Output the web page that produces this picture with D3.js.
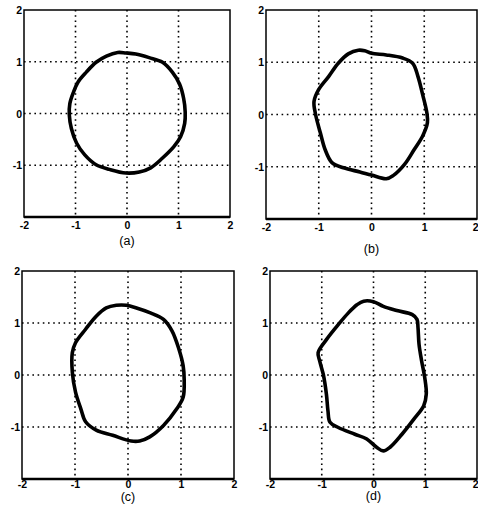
<!DOCTYPE html>
<html>
<head>
<meta charset="utf-8">
<script src="https://cdn.jsdelivr.net/npm/d3@7"></script>
<style>
  html, body { margin: 0; padding: 0; background: #fff; }
  svg { display: block; }
  .tick text { font-family: "Liberation Sans", Arial, sans-serif; font-weight: bold; font-size: 10.5px; fill: #000; }
  .caption { font-family: "Liberation Sans", Arial, sans-serif; font-size: 12.5px; fill: #000; }
</style>
</head>
<body>
<svg id="chart" width="478" height="510"></svg>
<script>
// Tick values: the x axis carries -2..2, the y axis -1..2 (its -2 is left to the x axis)
const xTickValues = [-2, -1, 0, 1, 2];
const yTickValues = [-1, 0, 1, 2];
const gridValues = [-1, 0, 1];

// Panel captions
const captions = ["(a)", "(b)", "(c)", "(d)"];

// Closed trajectory of each panel, as [x, y] points
const curveA = [
  [-0.18, 1.18], [-0.40, 1.11], [-0.60, 0.99], [-0.79, 0.80], [-0.95, 0.61],
  [-1.04, 0.41], [-1.11, 0.19], [-1.12, -0.03], [-1.08, -0.29], [-0.98, -0.57],
  [-0.82, -0.80], [-0.60, -0.99], [-0.34, -1.08], [-0.02, -1.15], [0.24, -1.13],
  [0.46, -1.05], [0.69, -0.86], [0.91, -0.64], [1.04, -0.45], [1.12, -0.19],
  [1.13, 0.03], [1.10, 0.29], [1.02, 0.57], [0.88, 0.80], [0.69, 0.99],
  [0.43, 1.08], [0.17, 1.15], [-0.02, 1.17]
];
const curveB = [
  [-0.25, 1.23], [-0.44, 1.16], [-0.63, 0.98], [-0.81, 0.73], [-1.00, 0.48],
  [-1.09, 0.25], [-1.06, 0.00], [-0.97, -0.35], [-0.88, -0.67], [-0.75, -0.92],
  [-0.53, -1.02], [-0.22, -1.10], [0.00, -1.16], [0.28, -1.23], [0.41, -1.17],
  [0.63, -0.95], [0.81, -0.67], [0.97, -0.41], [1.06, -0.16], [1.05, 0.03],
  [0.97, 0.38], [0.88, 0.73], [0.78, 0.98], [0.59, 1.08], [0.28, 1.14],
  [0.00, 1.17], [-0.13, 1.22]
];
const curveC = [
  [-0.22, 1.34], [-0.41, 1.29], [-0.60, 1.13], [-0.80, 0.88], [-0.99, 0.62],
  [-1.05, 0.43], [-1.05, 0.05], [-0.99, -0.33], [-0.89, -0.65], [-0.80, -0.90],
  [-0.60, -1.06], [-0.29, -1.16], [0.06, -1.27], [0.22, -1.27], [0.41, -1.19],
  [0.67, -0.97], [0.92, -0.65], [1.04, -0.43], [1.06, -0.08], [1.04, 0.18],
  [0.96, 0.50], [0.83, 0.85], [0.67, 1.07], [0.41, 1.20], [0.16, 1.29],
  [-0.03, 1.34]
];
const curveD = [
  [-0.19, 1.42], [-0.32, 1.35], [-0.49, 1.19], [-0.68, 0.97], [-0.91, 0.68],
  [-1.07, 0.43], [-1.04, 0.27], [-0.97, 0.01], [-0.91, -0.37], [-0.88, -0.69],
  [-0.84, -0.91], [-0.68, -1.01], [-0.36, -1.14], [-0.13, -1.23], [0.06, -1.39],
  [0.19, -1.46], [0.32, -1.39], [0.55, -1.14], [0.78, -0.85], [0.97, -0.59],
  [1.02, -0.37], [0.99, -0.05], [0.93, 0.27], [0.88, 0.59], [0.86, 0.91],
  [0.84, 1.07], [0.75, 1.16], [0.45, 1.24], [0.19, 1.32], [0.00, 1.41]
];

const curves = [curveA, curveB, curveC, curveD];

// Plot boxes in the 2x2 grid (left, right, top, bottom), tick padding and caption baselines
const boxes = [
  { l: 24,  r: 230, t: 10,  b: 217, pad: 5, capY: 245 },
  { l: 266, r: 477, t: 10,  b: 219, pad: 5, capY: 253 },
  { l: 22,  r: 234, t: 271, b: 479, pad: 2, capY: 501 },
  { l: 270, r: 477, t: 271, b: 479, pad: 2, capY: 500 }
];

// integer labels with a plain hyphen for negatives
const tickFormat = d => String(d);

const svg = d3.select("#chart");
const W = +svg.attr("width");

boxes.forEach((box, i) => {
  const x = d3.scaleLinear().domain([-2, 2]).range([box.l, box.r]);
  const y = d3.scaleLinear().domain([-2, 2]).range([box.b, box.t]);
  const g = svg.append("g");

  // dotted grid
  g.selectAll(".vgrid").data(gridValues).join("line")
    .attr("x1", d => x(d)).attr("x2", d => x(d))
    .attr("y1", box.t).attr("y2", box.b)
    .attr("stroke", "#000").attr("stroke-width", 1.6)
    .attr("stroke-dasharray", "1.6,3.6");
  g.selectAll(".hgrid").data(gridValues).join("line")
    .attr("x1", box.l).attr("x2", box.r)
    .attr("y1", d => y(d)).attr("y2", d => y(d))
    .attr("stroke", "#000").attr("stroke-width", 1.6)
    .attr("stroke-dasharray", "1.6,3.6");

  // frame
  g.append("rect")
    .attr("x", box.l).attr("y", box.t)
    .attr("width", box.r - box.l).attr("height", box.b - box.t)
    .attr("fill", "none").attr("stroke", "#000").attr("stroke-width", 1.5);
  g.append("line")
    .attr("x1", box.l).attr("x2", box.r)
    .attr("y1", box.b).attr("y2", box.b)
    .attr("stroke", "#000").attr("stroke-width", 2.5);

  // axes (labels only; frame drawn above)
  const xAxis = d3.axisBottom(x).tickValues(xTickValues).tickSize(0).tickPadding(box.pad)
    .tickFormat(tickFormat);
  const yAxis = d3.axisLeft(y).tickValues(yTickValues).tickSize(0).tickPadding(2)
    .tickFormat(tickFormat);
  const gx = g.append("g").attr("transform", `translate(0,${box.b})`).call(xAxis);
  const gy = g.append("g").attr("transform", `translate(${box.l},0)`).call(yAxis);
  gx.select(".domain").remove();
  gy.select(".domain").remove();
  gy.selectAll(".tick text").attr("dy", "0.35em");
  // keep the last x label inside the page when the frame reaches the edge
  if (box.r > W - 6) {
    gx.selectAll(".tick").filter(d => d === 2).select("text")
      .attr("text-anchor", "end").attr("x", W - box.r);
  }

  // trajectory
  const line = d3.line()
    .x(d => x(d[0])).y(d => y(d[1]))
    .curve(d3.curveCatmullRomClosed.alpha(0.5));
  g.append("path")
    .datum(curves[i])
    .attr("d", line)
    .attr("fill", "none")
    .attr("stroke", "#000")
    .attr("stroke-width", 3.6)
    .attr("stroke-linejoin", "round");

  // caption
  g.append("text")
    .attr("class", "caption")
    .attr("x", (box.l + box.r) / 2)
    .attr("y", box.capY)
    .attr("text-anchor", "middle")
    .text(captions[i]);
});
</script>
</body>
</html>
